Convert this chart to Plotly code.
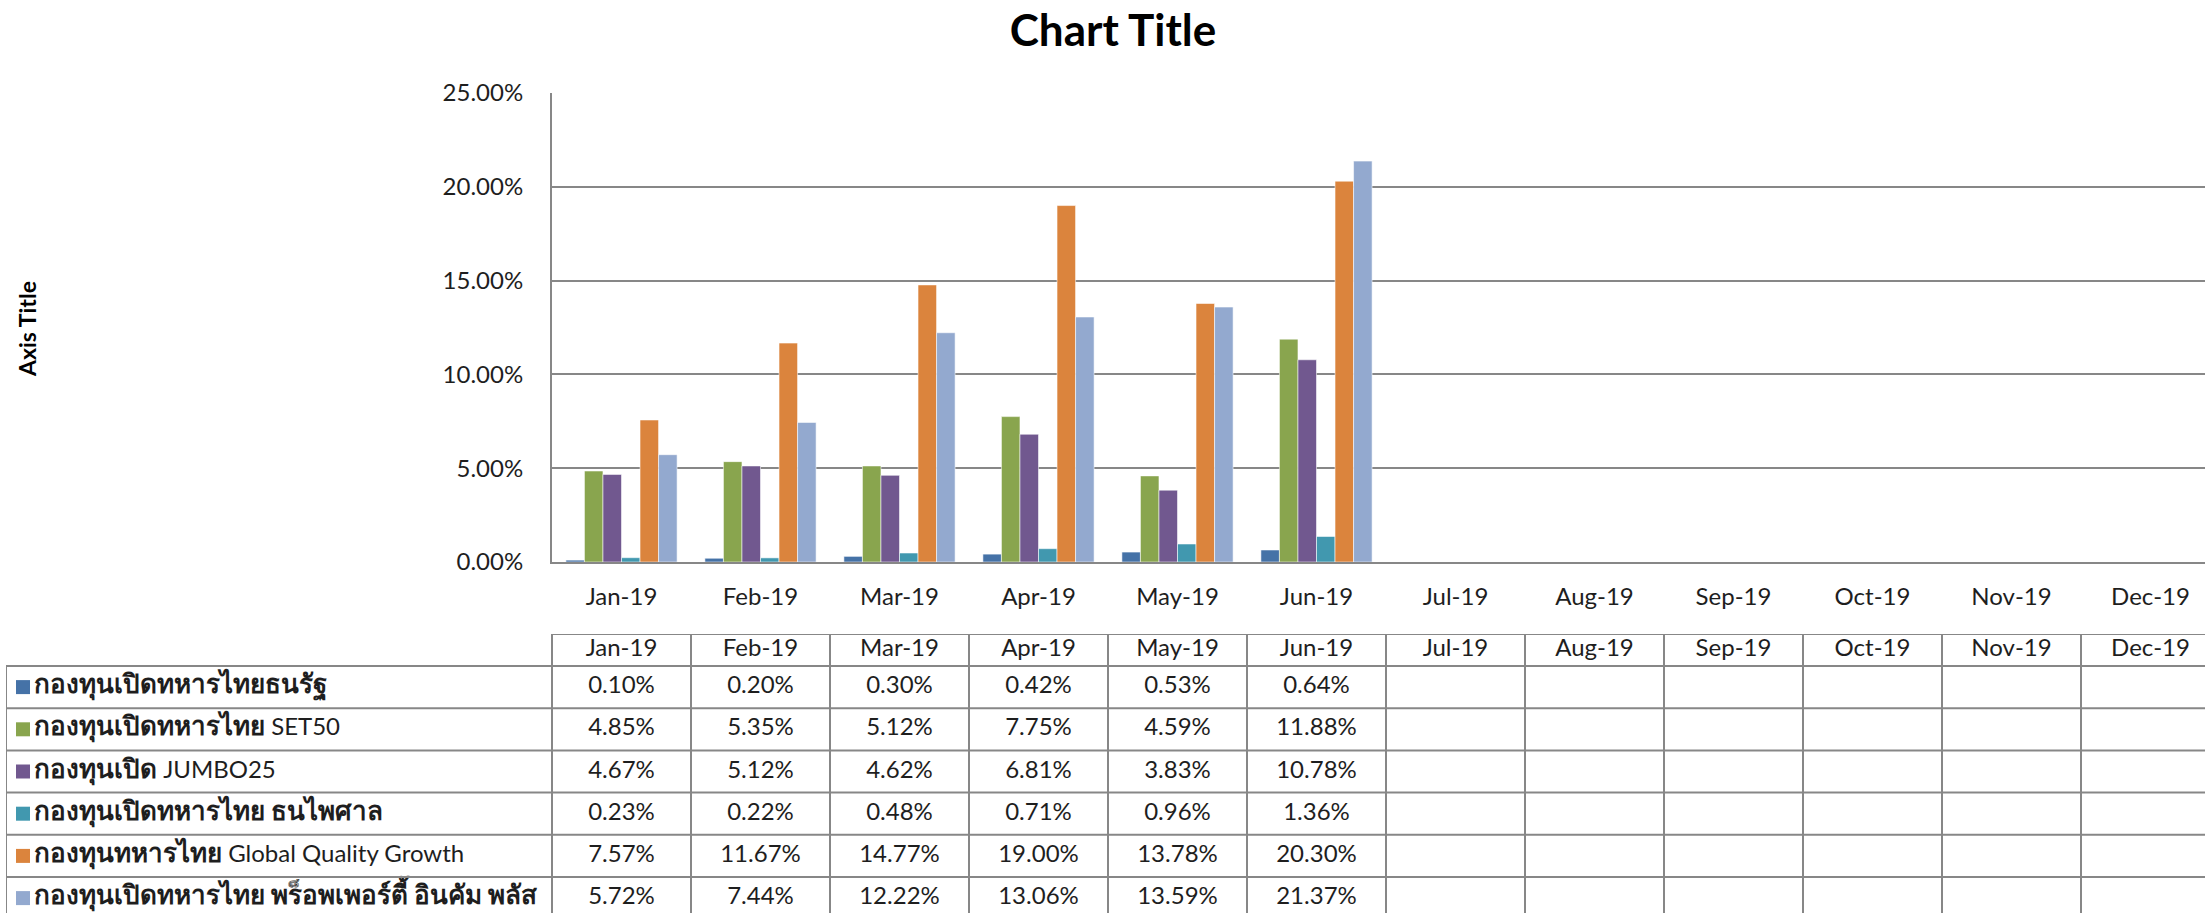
import re
import plotly.graph_objects as go

# ---------------- data ----------------
months = ["Jan-19", "Feb-19", "Mar-19", "Apr-19", "May-19", "Jun-19",
          "Jul-19", "Aug-19", "Sep-19", "Oct-19", "Nov-19", "Dec-19"]

series_names = [
    "กองทุนเปิดทหารไทยธนรัฐ",
    "กองทุนเปิดทหารไทย SET50",
    "กองทุนเปิด JUMBO25",
    "กองทุนเปิดทหารไทย ธนไพศาล",
    "กองทุนทหารไทย Global Quality Growth",
    "กองทุนเปิดทหารไทย พร็อพเพอร์ตี้ อินคัม พลัส",
]

thanarat = [0.0010, 0.0020, 0.0030, 0.0042, 0.0053, 0.0064]
set50 = [0.0485, 0.0535, 0.0512, 0.0775, 0.0459, 0.1188]
jumbo25 = [0.0467, 0.0512, 0.0462, 0.0681, 0.0383, 0.1078]
thanapaisan = [0.0023, 0.0022, 0.0048, 0.0071, 0.0096, 0.0136]
global_quality = [0.0757, 0.1167, 0.1477, 0.1900, 0.1378, 0.2030]
property_income = [0.0572, 0.0744, 0.1222, 0.1306, 0.1359, 0.2137]

series_values = [thanarat, set50, jumbo25, thanapaisan, global_quality, property_income]
colors = ["#4572A7", "#89A54E", "#71588F", "#4198AF", "#DB843D", "#93A9CF"]

y_ticks = [0, 0.05, 0.10, 0.15, 0.20, 0.25]

# ---------------- geometry (pixels) ----------------
W, H = 2205, 913
PLOT_L = 552          # left edge of plot area / month columns
PLOT_TOP = 93
PLOT_BOT = 562
TABLE_L = 6
TABLE_TOP = 634
HEAD_H = 32
ROW_H = 42.2
PXU = 139.0                                 # pixels per category (chart runs past right edge)
X_MAX = -0.5 + (W - PLOT_L) / PXU           # visible part of category axis
LEG_U = (PLOT_L - TABLE_L) / PXU            # legend column width in category units
X2_MIN = -0.5 - LEG_U
X2_END = len(months) - 0.5

FONT = "Lato, 'Noto Sans', 'DejaVu Sans', sans-serif"
TXT = "#1e1e1e"
GRID = "#878787"

fig = go.Figure()

# ---------------- bars ----------------
for name, vals, col in zip(series_names, series_values, colors):
    fig.add_trace(go.Bar(
        x=months[:len(vals)], y=vals, name=name,
        marker=dict(color=col, line=dict(color="rgba(255,255,255,0.55)", width=1)),
        xaxis="x", yaxis="y", showlegend=False,
        hovertemplate="%{x}<br>" + name + ": %{y:.2%}<extra></extra>",
    ))

# ---------------- data table ----------------
def px_to_u(px):
    return px / PXU

def style_thai(s):
    return re.sub(r"([\u0E00-\u0E7F]+)",
                  r"<span style='font-size:26px;font-weight:bold'>\1</span>", s)

row_centers = [HEAD_H + ROW_H * (i + 0.5) for i in range(len(series_names))]

# header months
fig.add_trace(go.Scatter(
    x=list(range(len(months))), y=[HEAD_H / 2] * len(months),
    text=months, mode="text", textposition="middle center",
    textfont=dict(family=FONT, size=24, color=TXT),
    xaxis="x2", yaxis="y2", showlegend=False, hoverinfo="skip",
))

# values
for vals, yc in zip(series_values, row_centers):
    fig.add_trace(go.Scatter(
        x=list(range(len(vals))), y=[yc] * len(vals),
        text=[f"{v * 100:.2f}%" for v in vals], mode="text",
        textposition="middle center",
        textfont=dict(family=FONT, size=24, color=TXT),
        xaxis="x2", yaxis="y2", showlegend=False, hoverinfo="skip",
    ))

# legend keys (squares) and series names
fig.add_trace(go.Scatter(
    x=[X2_MIN + px_to_u(17)] * len(series_names), y=row_centers,
    mode="markers", marker=dict(symbol="square", size=14, color=colors),
    xaxis="x2", yaxis="y2", showlegend=False, hoverinfo="skip",
))
fig.add_trace(go.Scatter(
    x=[X2_MIN + px_to_u(28)] * len(series_names), y=row_centers,
    text=[style_thai(s) for s in series_names], mode="text", textposition="middle right",
    textfont=dict(family=FONT, size=24, color=TXT),
    xaxis="x2", yaxis="y2", showlegend=False, hoverinfo="skip",
))

# table grid lines
TABLE_BOTTOM = H - TABLE_TOP + 10
line = dict(color=GRID, width=2)
shapes = []
shapes.append(dict(type="line", xref="x2", yref="y2", x0=-0.5, x1=X2_END, y0=0, y1=0, line=line))
for k in range(len(series_names) + 1):
    yy = HEAD_H + ROW_H * k
    shapes.append(dict(type="line", xref="x2", yref="y2", x0=X2_MIN, x1=X2_END, y0=yy, y1=yy, line=line))
for i in range(len(months) + 1):
    xb = -0.5 + i
    shapes.append(dict(type="line", xref="x2", yref="y2", x0=xb, x1=xb, y0=0, y1=TABLE_BOTTOM, line=line))
shapes.append(dict(type="line", xref="x2", yref="y2", x0=X2_MIN, x1=X2_MIN, y0=HEAD_H, y1=TABLE_BOTTOM, line=line))

fig.update_layout(
    width=W, height=H,
    margin=dict(l=0, r=0, t=0, b=0, pad=0, autoexpand=False),
    paper_bgcolor="white", plot_bgcolor="white",
    font=dict(family=FONT, size=24, color=TXT),
    barmode="group", bargap=0.2, bargroupgap=0,
    title=dict(text="<b>Chart Title</b>", x=1113 / W, xanchor="center",
               y=1 - 31 / H, yanchor="middle", automargin=False,
               font=dict(family=FONT, size=44, color="#000000")),
    xaxis=dict(domain=[PLOT_L / W, 1], type="category", categoryorder="array",
               categoryarray=months, range=[-0.5, X_MAX],
               showline=True, linecolor=GRID, linewidth=2, showgrid=False,
               ticks="", ticklabelstandoff=12, automargin=False,
               tickfont=dict(family=FONT, size=24, color=TXT), fixedrange=True),
    yaxis=dict(domain=[1 - PLOT_BOT / H, 1 - PLOT_TOP / H], range=[0, 0.25],
               tickvals=y_ticks, tickformat=".2%", showline=True, linecolor=GRID,
               linewidth=2, showgrid=True, gridcolor=GRID, gridwidth=2,
               zeroline=False, ticks="", ticklabelstandoff=22, automargin=False,
               tickfont=dict(family=FONT, size=24, color=TXT), fixedrange=True),
    xaxis2=dict(domain=[TABLE_L / W, 1], range=[X2_MIN, X_MAX], visible=False,
                anchor="y2", fixedrange=True, automargin=False),
    yaxis2=dict(domain=[0, 1 - TABLE_TOP / H], range=[H - TABLE_TOP, 0], visible=False,
                anchor="x2", fixedrange=True, automargin=False),
    shapes=shapes,
    annotations=[dict(text="<b>Axis Title</b>", textangle=-90, xref="paper", yref="paper",
                      x=27 / W, y=1 - 329 / H, xanchor="center", yanchor="middle",
                      showarrow=False, font=dict(family=FONT, size=23, color="#000000"))],
)

fig.write_html("out.html", config={"displayModeBar": False},
               post_script="document.body.style.margin='0';document.body.style.overflow='hidden';")
